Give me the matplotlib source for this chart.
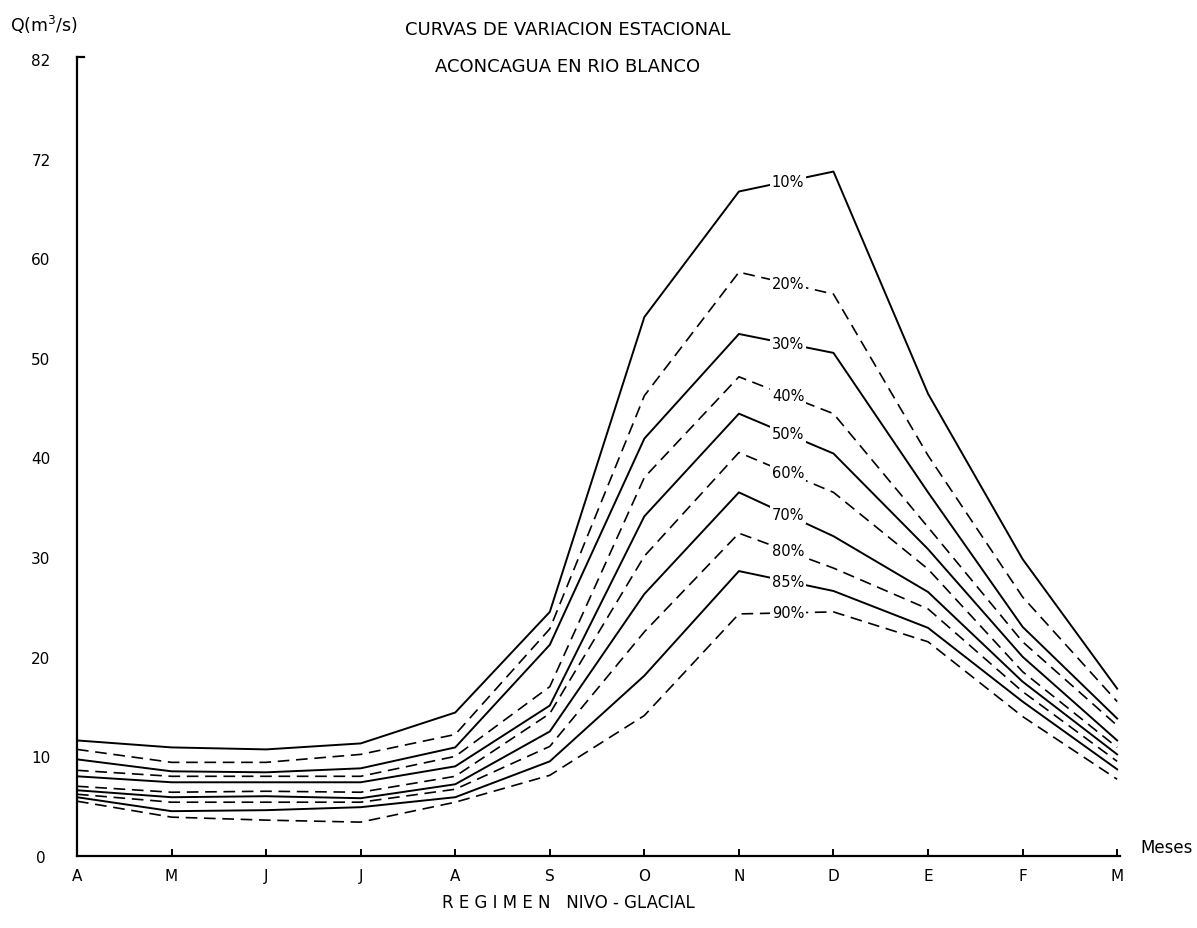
import matplotlib
matplotlib.use("Agg")
import matplotlib.pyplot as plt

months = ['A', 'M', 'J', 'J', 'A', 'S', 'O', 'N', 'D', 'E', 'F', 'M']

p10 = [11.6, 10.9, 10.7, 11.3, 14.4, 24.5, 54.1, 66.7, 68.7, 46.4, 29.8, 16.8]
p20 = [10.7, 9.4, 9.4, 10.2, 12.2, 22.8, 46.2, 58.6, 56.4, 40.2, 26.0, 15.5]
p30 = [9.7, 8.5, 8.4, 8.8, 10.9, 21.2, 41.9, 52.4, 50.5, 36.5, 23.0, 13.8]
p40 = [8.6, 8.0, 8.0, 8.0, 10.0, 17.0, 38.0, 48.1, 44.4, 33.0, 21.5, 13.1]
p50 = [8.0, 7.4, 7.4, 7.4, 9.0, 15.1, 34.1, 44.4, 40.4, 30.8, 20.0, 11.6]
p60 = [7.0, 6.4, 6.5, 6.4, 8.0, 14.3, 30.1, 40.5, 36.5, 28.8, 18.5, 10.9]
p70 = [6.6, 5.9, 6.0, 5.8, 7.2, 12.5, 26.3, 36.5, 32.1, 26.5, 17.5, 10.2]
p80 = [6.2, 5.4, 5.4, 5.4, 6.7, 11.0, 22.5, 32.4, 28.9, 24.8, 16.5, 9.5]
p85 = [5.9, 4.5, 4.6, 4.9, 5.9, 9.5, 18.1, 28.6, 26.6, 22.9, 15.5, 8.7]
p90 = [5.5, 3.9, 3.6, 3.4, 5.4, 8.1, 14.1, 24.3, 24.5, 21.5, 14.0, 7.7]

series = [p10, p20, p30, p40, p50, p60, p70, p80, p85, p90]
labels = ['10%', '20%', '30%', '40%', '50%', '60%', '70%', '80%', '85%', '90%']
dashed = [False, True, False, True, False, True, False, True, False, True]

ytick_vals = [0, 10, 20, 30, 40, 50, 60, 70, 80]
ytick_labels = ['0', '10', '20', '30', '40', '50', '60', '72', '82']

W, H = 1197, 929
fig = plt.figure(figsize=(W / 100, H / 100), dpi=100)
left, right, bottom, top = 77, 1120, 857, 58
ax = fig.add_axes([left / W, (H - bottom) / H, (right - left) / W, (bottom - top) / H])
ax.set_xlim(0, 11.03)
ax.set_ylim(0, 80.2)

x = list(range(len(months)))
for s, lab, d in zip(series, labels, dashed):
    if d:
        ax.plot(x, s, color='black', lw=1.2, linestyle=(0, (7, 4)))
    else:
        ax.plot(x, s, color='black', lw=1.4)
    ax.text(7.52, (s[7] + s[8]) / 2, lab, ha='center', va='center', fontsize=10.5,
            bbox=dict(fc='white', ec='none', pad=1.5), zorder=5)

for sp in ['top', 'right']:
    ax.spines[sp].set_visible(False)
ax.spines['left'].set_linewidth(1.6)
ax.spines['bottom'].set_linewidth(1.6)

ax.set_xticks(x)
ax.set_xticklabels(months, fontsize=11)
ax.tick_params(axis='x', direction='in', length=5, width=1.4, pad=9)
ax.set_yticks(ytick_vals)
ax.set_yticklabels(ytick_labels, fontsize=11)
ax.tick_params(axis='y', length=0, pad=26)
for t in ax.get_yticklabels():
    t.set_ha('center')
# top bracket tick
ax.plot([0, 0.07], [80.2, 80.2], color='black', lw=1.6, clip_on=False)

fig.text(568 / W, 1 - 30 / H, 'CURVAS DE VARIACION ESTACIONAL', ha='center', va='center', fontsize=13)
fig.text(568 / W, 1 - 67 / H, 'ACONCAGUA EN RIO BLANCO', ha='center', va='center', fontsize=13)
fig.text(10 / W, 1 - 25 / H, 'Q(m$^3$/s)', ha='left', va='center', fontsize=12.5)
fig.text(1140 / W, 1 - 848 / H, 'Meses', ha='left', va='center', fontsize=12)
fig.text(568 / W, 1 - 903 / H, 'R E G I M E N   NIVO - GLACIAL', ha='center', va='center', fontsize=12)

fig.savefig('out.png', dpi=100, facecolor='white')
